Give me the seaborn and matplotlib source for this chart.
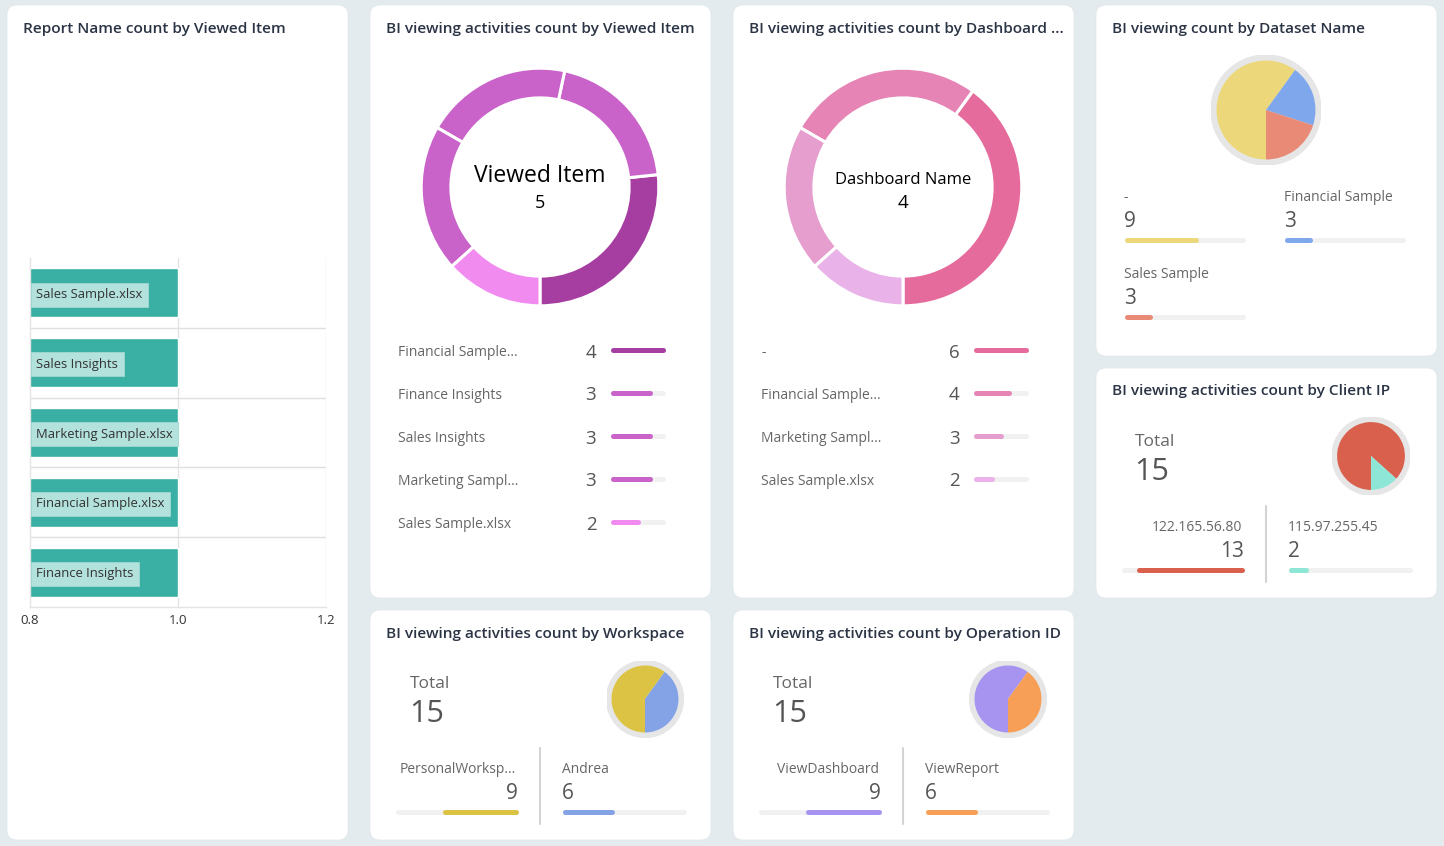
import matplotlib
matplotlib.use("Agg")
import matplotlib.pyplot as plt
import seaborn as sns
import pandas as pd
from matplotlib.patches import FancyBboxPatch, Circle

# ---------------- data ----------------
bar_items = ["Sales Sample.xlsx", "Sales Insights", "Marketing Sample.xlsx",
             "Financial Sample.xlsx", "Finance Insights"]
bar_counts = [1, 1, 1, 1, 1]
bar_ticks = [0.8, 1.0, 1.2]

viewed_items = ["Financial Sample...", "Finance Insights", "Sales Insights",
                "Marketing Sampl...", "Sales Sample.xlsx"]
viewed_counts = [4, 3, 3, 3, 2]
viewed_colors = ["#a63da1", "#c962c9", "#c962c9", "#c962c9", "#f28bf0"]

dash_names = ["-", "Financial Sample...", "Marketing Sampl...", "Sales Sample.xlsx"]
dash_counts = [6, 4, 3, 2]
dash_colors = ["#e56b9c", "#e684b5", "#e69ecf", "#e9b3e9"]

dataset_names = ["-", "Financial Sample", "Sales Sample"]
dataset_counts = [9, 3, 3]
dataset_colors = ["#ecd87b", "#7fa7ec", "#e98a77"]

ip_names = ["122.165.56.80", "115.97.255.45"]
ip_counts = [13, 2]
ip_colors = ["#d9604d", "#8ee7d6"]

ws_names = ["PersonalWorksp...", "Andrea"]
ws_counts = [9, 6]
ws_colors = ["#dcc344", "#84a3e6"]

op_names = ["ViewDashboard", "ViewReport"]
op_counts = [9, 6]
op_colors = ["#a694f0", "#f79f56"]

titles = ["Report Name count by Viewed Item",
          "BI viewing activities count by Viewed Item",
          "BI viewing activities count by Dashboard ...",
          "BI viewing count by Dataset Name",
          "BI viewing activities count by Client IP",
          "BI viewing activities count by Workspace",
          "BI viewing activities count by Operation ID"]

# ---------------- setup ----------------
sns.set_theme(style="white")
FONT = ["Open Sans", "DejaVu Sans"]
plt.rcParams["font.family"] = FONT

W, H = 1444, 846
fig = plt.figure(figsize=(W / 100, H / 100), dpi=100)
fig.patch.set_facecolor("#e3ebee")

bg = fig.add_axes([0, 0, 1, 1])
bg.set_xlim(0, W)
bg.set_ylim(H, 0)
bg.axis("off")

DY = 2.5  # vertical text nudge (px)


def txt(x, y, s, **kw):
    return bg.text(x, y + DY, s, **kw)


def add_ax(x0, y0, x1, y1):
    return fig.add_axes([x0 / W, 1 - y1 / H, (x1 - x0) / W, (y1 - y0) / H])


TITLE_C = "#2b3445"
LABEL_C = "#666666"
VAL_C = "#555555"

cards = [(7, 5, 348, 840), (370, 5, 711, 598), (733, 5, 1074, 598),
         (1096, 5, 1437, 356), (1096, 368, 1437, 598),
         (370, 610, 711, 840), (733, 610, 1074, 840)]
title_pos = [(23, 26.5), (386, 26.5), (749, 26.5), (1112, 26.5), (1112, 388.5),
             (386, 631.5), (749, 631.5)]
for (x0, y0, x1, y1), (tx, ty), t in zip(cards, title_pos, titles):
    bg.add_patch(FancyBboxPatch((x0, y0), x1 - x0, y1 - y0,
                                boxstyle="round,pad=0,rounding_size=10",
                                fc="white", ec="#e0e6e9", lw=0.5))
    txt(tx, ty, t, fontsize=11.05, color=TITLE_C, va="center", ha="left",
        fontweight=600)


def progress(x0, x1, y, value, total, color, reverse=False, lw=5):
    r = lw / 2
    a = add_ax(x0 + r, y - 4, x1 - r, y + 4)
    a.set_xlim((total, 0) if reverse else (0, total))
    a.set_ylim(-1, 1)
    a.axis("off")
    a.plot([0, total], [0, 0], color="#f1f1f1", lw=lw * 0.72,
           solid_capstyle="round", clip_on=False)
    a.plot([0, value], [0, 0], color=color, lw=lw * 0.72,
           solid_capstyle="round", clip_on=False)


def ringed_pie(cx, cy, R, frac, counts, colors):
    a = add_ax(cx - R, cy - R, cx + R, cy + R)
    a.add_patch(Circle((0, 0), 1, color="#e6e6e6", zorder=0))
    a.pie(counts, colors=colors, startangle=-90, counterclock=False, radius=frac,
          wedgeprops=dict(linewidth=0))
    a.set_xlim(-1, 1)
    a.set_ylim(-1, 1)
    a.set_aspect("equal")
    a.axis("off")


# ---------------- card A: bar chart ----------------
ax = add_ax(30, 258, 326, 607)
df = pd.DataFrame({"item": bar_items, "count": bar_counts})
sns.barplot(data=df, x="count", y="item", orient="h", color="#3aafa4",
            saturation=1, width=0.7, ax=ax, zorder=2)
ax.set_xlim(bar_ticks[0], bar_ticks[-1])
ax.set_ylim(len(bar_items) - 0.5, -0.5)
ax.set_xticks(bar_ticks)
ax.set_xticklabels([f"{t:.1f}" for t in bar_ticks])
ax.set_yticks([])
ax.set_xlabel("")
ax.set_ylabel("")
ax.tick_params(axis="x", length=0, pad=5, labelsize=9.5, labelcolor="#333333")
for s in ["top", "right"]:
    ax.spines[s].set_visible(False)
for s in ["left", "bottom"]:
    ax.spines[s].set_color("#e4e4e4")
    ax.spines[s].set_linewidth(1)
for xv in bar_ticks[1:]:
    ax.axvline(xv, color="#e4e4e4", lw=1, zorder=1)
for i in range(len(bar_items) - 1):
    ax.axhline(i + 0.5, color="#e0e0e0", lw=1, zorder=1)
for i, name in enumerate(bar_items):
    ax.annotate(name, xy=(bar_ticks[0], i), xytext=(4.6, -1.2), textcoords="offset points",
                va="center", ha="left", fontsize=9.4, color="#333333", zorder=5,
                bbox=dict(boxstyle="square,pad=0.42", fc="#b3e1dc", ec="#a3d8d2", lw=0.6))

# ---------------- card B: donut viewed item ----------------
a = add_ax(420, 67, 660, 307)
a.pie(viewed_counts, colors=viewed_colors, startangle=-90, counterclock=True,
      radius=1, wedgeprops=dict(width=0.25, edgecolor="white", linewidth=2.2))
a.set_xlim(-1.01, 1.01)
a.set_ylim(-1.01, 1.01)
a.set_aspect("equal")
txt(540, 173, "Viewed Item", fontsize=16.5, color="black", ha="center", va="center")
txt(540, 200, "5", fontsize=13, color="black", ha="center", va="center")
for i, (n, v, c) in enumerate(zip(viewed_items, viewed_counts, viewed_colors)):
    y = 350 + 43 * i
    txt(398, y, n, fontsize=10, color=LABEL_C, ha="left", va="center")
    txt(591, y, str(v), fontsize=13.5, color=VAL_C, ha="center", va="center")
    progress(610, 665, y, v, max(viewed_counts), c)

# ---------------- card C: donut dashboard ----------------
a = add_ax(783, 67, 1023, 307)
a.pie(dash_counts, colors=dash_colors, startangle=-90, counterclock=True,
      radius=1, wedgeprops=dict(width=0.25, edgecolor="white", linewidth=2.2))
a.set_xlim(-1.01, 1.01)
a.set_ylim(-1.01, 1.01)
a.set_aspect("equal")
txt(903, 177, "Dashboard Name", fontsize=12, color="black", ha="center", va="center")
txt(903, 200, "4", fontsize=13.5, color="black", ha="center", va="center")
for i, (n, v, c) in enumerate(zip(dash_names, dash_counts, dash_colors)):
    y = 350 + 43 * i
    txt(761, y, n, fontsize=10, color=LABEL_C, ha="left", va="center")
    txt(954, y, str(v), fontsize=13.5, color=VAL_C, ha="center", va="center")
    progress(973, 1028, y, v, max(dash_counts), c)

# ---------------- card D: dataset pie ----------------
ringed_pie(1266, 110, 55, 0.9, dataset_counts, dataset_colors)
tot = sum(dataset_counts)
pos = [(1124, 195), (1284, 195), (1124, 272)]
for (x, y), n, v, c in zip(pos, dataset_names, dataset_counts, dataset_colors):
    txt(x, y, n, fontsize=10, color=LABEL_C, ha="left", va="center")
    txt(x, y + 24, str(v), fontsize=15, color=VAL_C, ha="left", va="center")
    progress(x, x + 121, y + 45, v, tot, c)


# ---------------- two-item cards ----------------
def two_item(cx_total, pie_c, names, counts, colors, divx, ytop, lx0, lx1, rx0, rx1, R):
    total = sum(counts)
    txt(cx_total, ytop, "Total", fontsize=12.5, color=LABEL_C, ha="left", va="center")
    txt(cx_total - 1, ytop + 30, str(total), fontsize=22, color=VAL_C, ha="left", va="center")
    ringed_pie(pie_c[0], pie_c[1], R, 0.87, counts, colors)
    yl = ytop + 86
    bg.plot([divx, divx], [yl - 19, yl + 57], color="#d4d4d4", lw=1.5)
    txt(lx1 - 2, yl, names[0], fontsize=10, color=LABEL_C, ha="right", va="center")
    txt(lx1, yl + 24, str(counts[0]), fontsize=15, color=VAL_C, ha="right", va="center")
    progress(lx0, lx1, yl + 45, counts[0], total, colors[0], reverse=True)
    txt(rx0, yl, names[1], fontsize=10, color=LABEL_C, ha="left", va="center")
    txt(rx0, yl + 24, str(counts[1]), fontsize=15, color=VAL_C, ha="left", va="center")
    progress(rx0, rx1, yl + 45, counts[1], total, colors[1])


two_item(1135, (1371, 456), ip_names, ip_counts, ip_colors, 1266, 439,
         1121, 1244, 1288, 1412, 39)
two_item(410, (645, 699), ws_names, ws_counts, ws_colors, 540, 681,
         395, 518, 562, 686, 38.5)
two_item(773, (1008, 699), op_names, op_counts, op_colors, 903, 681,
         758, 881, 925, 1049, 38.5)

fig.savefig("out.png", dpi=100, facecolor=fig.get_facecolor())
